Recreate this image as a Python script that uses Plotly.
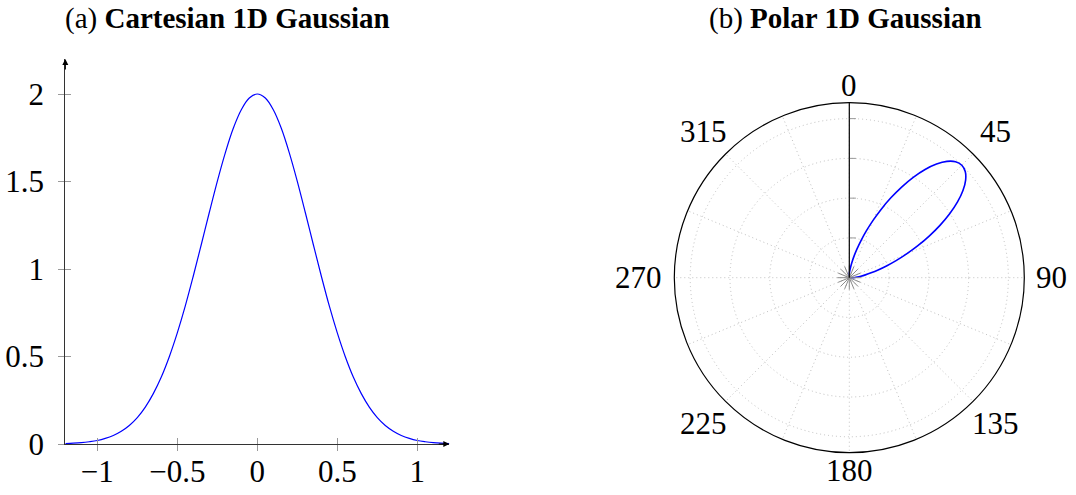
import math
import plotly.graph_objects as go

# ---- data ----
cart_x = [-1.2, -1.15, -1.1, -1.05, -1.0, -0.95, -0.9, -0.85, -0.8, -0.75, -0.7, -0.65, -0.6, -0.55,
          -0.5, -0.45, -0.4, -0.35, -0.3, -0.25, -0.2, -0.15, -0.1, -0.05, 0.0,
          0.05, 0.1, 0.15, 0.2, 0.25, 0.3, 0.35, 0.4, 0.45, 0.5, 0.55, 0.6, 0.65, 0.7, 0.75,
          0.8, 0.85, 0.9, 0.95, 1.0, 1.05, 1.1, 1.15, 1.2]
cart_y = [0.003, 0.005, 0.008, 0.013, 0.020, 0.032, 0.049, 0.073, 0.106, 0.151, 0.211, 0.288, 0.383, 0.499,
          0.635, 0.789, 0.960, 1.140, 1.323, 1.501, 1.664, 1.804, 1.910, 1.977, 2.0,
          1.977, 1.910, 1.804, 1.664, 1.501, 1.323, 1.140, 0.960, 0.789, 0.635, 0.499, 0.383, 0.288, 0.211, 0.151,
          0.106, 0.073, 0.049, 0.032, 0.020, 0.013, 0.008, 0.005, 0.003]
x_ticks = [-1, -0.5, 0, 0.5, 1]
x_tick_text = ["\u22121", "\u22120.5", "0", "0.5", "1"]
y_ticks = [0, 0.5, 1, 1.5, 2]
y_tick_text = ["0", "0.5", "1", "1.5", "2"]

polar_theta = [-7.5, -5, -2.5, 0, 2.5, 5, 7.5, 10, 12.5, 15, 17.5, 20, 22.5, 25, 27.5, 30, 32.5, 35, 37.5,
               40, 42.5, 45, 47.5, 50, 52.5, 55, 57.5, 60, 62.5, 65, 67.5, 70, 72.5, 75, 77.5, 80,
               82.5, 85, 87.5, 90, 92.5, 95, 97.5]
polar_r = [0.012, 0.019, 0.030, 0.046, 0.070, 0.102, 0.146, 0.205, 0.281, 0.375, 0.490, 0.626, 0.780,
           0.951, 1.132, 1.316, 1.496, 1.661, 1.801, 1.909, 1.977, 2.0, 1.977, 1.909, 1.801, 1.661,
           1.496, 1.316, 1.132, 0.951, 0.780, 0.626, 0.490, 0.375, 0.281, 0.205, 0.146, 0.102,
           0.070, 0.046, 0.030, 0.019, 0.012]
grid_angles = [0, 22.5, 45, 67.5, 90, 112.5, 135, 157.5, 180, 202.5, 225, 247.5, 270, 292.5, 315, 337.5]
label_angles = [0, 45, 90, 135, 180, 225, 270, 315]
label_text = ["0", "45", "90", "135", "180", "225", "270", "315"]
r_ticks = [0.5, 1, 1.5, 2]
center_r = [0, 0]
star_angles = [0, 22.5]

FONT = "Liberation Serif, Times New Roman, Times, serif"
W, H = 1076, 495
TICK_FS = 31
GRID = "#c0c0c0"
GRID_DASH = "1px,3px"

# polar placement (pixels)
P_CX, P_CY, P_R = 849.3, 277.7, 175.0
GAP_SIDE = 10.0       # gap for the 90 / 270 labels (edge-anchored)
D_VERT = 192.5        # label-centre distance for 0 / 180
D_DIAG = 206.5        # label-centre distance for the diagonal labels

fig = go.Figure()

fig.add_trace(go.Scatter(x=cart_x, y=cart_y, mode="lines",
                         line=dict(color="#0000ff", width=1.2, shape="spline", smoothing=1),
                         xaxis="x", yaxis="y", showlegend=False, hoverinfo="skip"))
# dummy trace for the overlay axes (inside ticks)
fig.add_trace(go.Scatter(x=[None], y=[None], xaxis="x3", yaxis="y3", showlegend=False, hoverinfo="skip"))

fig.add_trace(go.Scatterpolar(theta=polar_theta, r=polar_r, mode="lines",
                              line=dict(color="#0000ff", width=1.6, shape="spline", smoothing=1),
                              showlegend=False, hoverinfo="skip"))
fig.add_trace(go.Scatterpolar(theta=star_angles, r=center_r, mode="markers",
                              marker=dict(symbol="asterisk-open", size=20, angle=star_angles, color="#8c8c8c",
                                          line=dict(color="#8c8c8c", width=1)),
                              showlegend=False, hoverinfo="skip"))

xdom = [65.3 / W, 449.3 / W]
ydom = [1 - 444.0 / H, 1 - 59.0 / H]
axis_common = dict(showgrid=False, zeroline=False, tickcolor="#9a9a9a", ticklen=6, tickwidth=1, automargin=False)

# angular labels placed just outside the outer circle
angle_annotations = []
for ang, txt in zip(label_angles, label_text):
    s, c = math.sin(math.radians(ang)), math.cos(math.radians(ang))
    if abs(c) < 0.1:
        px = P_CX + (P_R + GAP_SIDE) * s
        py = P_CY
        xa = "left" if s > 0 else "right"
    else:
        d = D_VERT if abs(s) < 0.1 else D_DIAG
        px = P_CX + d * s
        py = P_CY - d * c
        xa = "center"
    angle_annotations.append(dict(xref="paper", yref="paper", x=px / W, y=1 - py / H,
                                  xanchor=xa, yanchor="middle", text=txt, showarrow=False,
                                  font=dict(family=FONT, size=TICK_FS, color="black")))

fig.update_layout(
    width=W, height=H, autosize=False,
    margin=dict(l=0, r=0, t=0, b=0, autoexpand=False),
    paper_bgcolor="white", plot_bgcolor="rgba(0,0,0,0)",
    font=dict(family=FONT, size=TICK_FS, color="black"),
    xaxis=dict(domain=xdom, range=[-1.2, 1.2], anchor="y", tickvals=x_ticks, ticktext=x_tick_text,
               ticks="outside", showline=True, linecolor="#333333", linewidth=1.2,
               ticklabelstandoff=-6, tickfont=dict(family=FONT, size=TICK_FS), **axis_common),
    yaxis=dict(domain=ydom, range=[0, 2.2], anchor="x", tickvals=y_ticks, ticktext=y_tick_text,
               ticks="outside", showline=True, linecolor="#333333", linewidth=1.2,
               ticklabelstandoff=8, tickfont=dict(family=FONT, size=TICK_FS), **axis_common),
    xaxis3=dict(domain=xdom, range=[-1.2, 1.2], overlaying="x", anchor="y3", tickvals=x_ticks,
                ticks="inside", showticklabels=False, showline=False, **axis_common),
    yaxis3=dict(domain=ydom, range=[0, 2.2], overlaying="y", anchor="x3", tickvals=y_ticks,
                ticks="inside", showticklabels=False, showline=False, **axis_common),
    polar=dict(
        domain=dict(x=[(P_CX - P_R) / W, (P_CX + P_R) / W], y=[1 - (P_CY + P_R) / H, 1 - (P_CY - P_R) / H]),
        bgcolor="white",
        angularaxis=dict(rotation=90, direction="clockwise", tickmode="array", tickvals=grid_angles,
                         showticklabels=False, ticks="", showline=True, linecolor="black", linewidth=1.2,
                         showgrid=True, gridcolor=GRID, gridwidth=1, griddash=GRID_DASH),
        radialaxis=dict(range=[0, 2.2], angle=90, tickvals=r_ticks, showticklabels=False,
                        ticks="outside", ticklen=6, tickcolor="#9a9a9a", showline=True,
                        linecolor="black", linewidth=1.2, showgrid=True, gridcolor=GRID,
                        gridwidth=1, griddash=GRID_DASH),
    ),
    annotations=[
        dict(xref="x", yref="y", x=1.2, y=0, ax=-12, ay=0, text="", showarrow=True,
             arrowhead=2, arrowsize=1, arrowwidth=1.2, arrowcolor="black"),
        dict(xref="x", yref="y", x=-1.2, y=2.2, ax=0, ay=12, text="", showarrow=True,
             arrowhead=2, arrowsize=1, arrowwidth=1.2, arrowcolor="black"),
        dict(xref="paper", yref="paper", x=227.5 / W, y=1 - 18.0 / H, xanchor="center", yanchor="middle",
             text="(a) <b>Cartesian 1D Gaussian</b>", showarrow=False,
             font=dict(family=FONT, size=29, color="black")),
        dict(xref="paper", yref="paper", x=845.8 / W, y=1 - 18.0 / H, xanchor="center", yanchor="middle",
             text="(b) <b>Polar 1D Gaussian</b>", showarrow=False,
             font=dict(family=FONT, size=29, color="black")),
    ] + angle_annotations,
)

fig.write_html("out.html")
